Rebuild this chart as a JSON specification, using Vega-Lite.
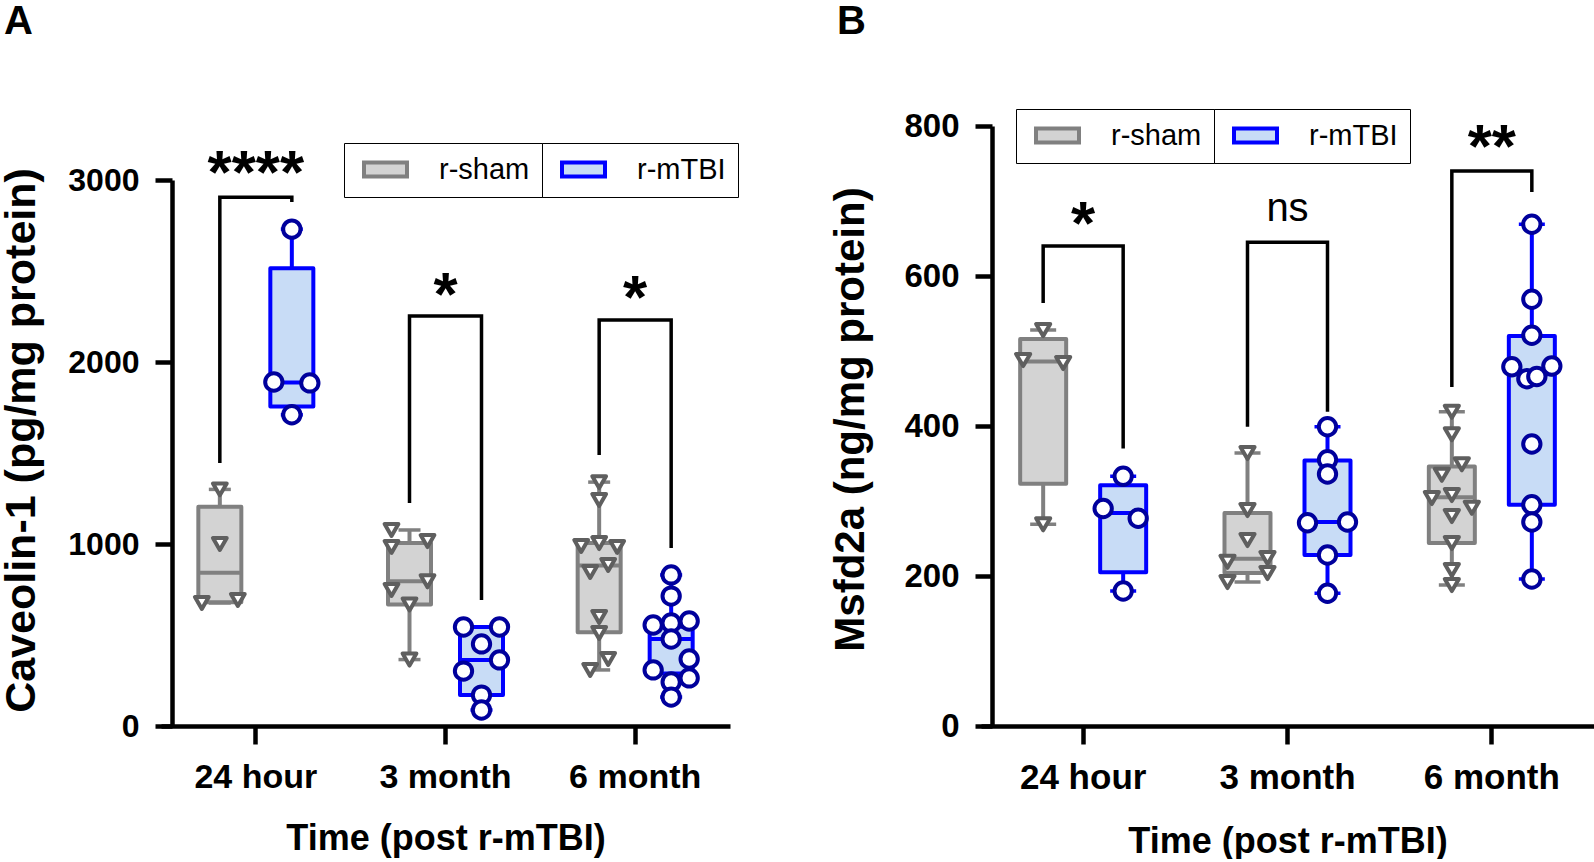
{
"$schema": "https://vega.github.io/schema/vega-lite/v6.json",
"padding": {"left": 0, "top": 2, "right": 0, "bottom": 0},
"background": "white",
"config": {
  "font": "Liberation Sans",
  "view": {"stroke": null},
  "axis": {"domainColor": "black", "domainWidth": 4.5, "tickColor": "black", "tickWidth": 4.5, "labelColor": "black", "labelFont": "Liberation Sans", "labelFontWeight": "bold", "titleFont": "Liberation Sans", "titleFontWeight": "bold", "titleColor": "black", "grid": false}
},
"datasets": {
"pts": [
{"p":"A","t":"24 hour","g":"r-sham","s":"s0","v":1300},
{"p":"A","t":"24 hour","g":"r-sham","s":"s0","v":1000},
{"p":"A","t":"24 hour","g":"r-sham","s":"s-4","v":676},
{"p":"A","t":"24 hour","g":"r-sham","s":"s4","v":692},
{"p":"A","t":"24 hour","g":"r-mTBI","s":"m0","v":2730},
{"p":"A","t":"24 hour","g":"r-mTBI","s":"m-4","v":1890},
{"p":"A","t":"24 hour","g":"r-mTBI","s":"m4","v":1885},
{"p":"A","t":"24 hour","g":"r-mTBI","s":"m0","v":1710},
{"p":"A","t":"3 month","g":"r-sham","s":"s-4","v":1077},
{"p":"A","t":"3 month","g":"r-sham","s":"s-4","v":984},
{"p":"A","t":"3 month","g":"r-sham","s":"s4","v":1016},
{"p":"A","t":"3 month","g":"r-sham","s":"s4","v":795},
{"p":"A","t":"3 month","g":"r-sham","s":"s-4","v":747},
{"p":"A","t":"3 month","g":"r-sham","s":"s0","v":668},
{"p":"A","t":"3 month","g":"r-sham","s":"s0","v":365},
{"p":"A","t":"3 month","g":"r-mTBI","s":"m-4","v":544},
{"p":"A","t":"3 month","g":"r-mTBI","s":"m4","v":544},
{"p":"A","t":"3 month","g":"r-mTBI","s":"m0","v":451},
{"p":"A","t":"3 month","g":"r-mTBI","s":"m4","v":363},
{"p":"A","t":"3 month","g":"r-mTBI","s":"m-4","v":302},
{"p":"A","t":"3 month","g":"r-mTBI","s":"m0","v":170},
{"p":"A","t":"3 month","g":"r-mTBI","s":"m0","v":88},
{"p":"A","t":"6 month","g":"r-sham","s":"s0","v":1340},
{"p":"A","t":"6 month","g":"r-sham","s":"s0","v":1242},
{"p":"A","t":"6 month","g":"r-sham","s":"s-4","v":989},
{"p":"A","t":"6 month","g":"r-sham","s":"s0","v":1005},
{"p":"A","t":"6 month","g":"r-sham","s":"s4","v":984},
{"p":"A","t":"6 month","g":"r-sham","s":"s2","v":885},
{"p":"A","t":"6 month","g":"r-sham","s":"s-2","v":846},
{"p":"A","t":"6 month","g":"r-sham","s":"s0","v":599},
{"p":"A","t":"6 month","g":"r-sham","s":"s0","v":511},
{"p":"A","t":"6 month","g":"r-sham","s":"s2","v":368},
{"p":"A","t":"6 month","g":"r-sham","s":"s-2","v":308},
{"p":"A","t":"6 month","g":"r-mTBI","s":"m0","v":830},
{"p":"A","t":"6 month","g":"r-mTBI","s":"m0","v":714},
{"p":"A","t":"6 month","g":"r-mTBI","s":"m-4","v":555},
{"p":"A","t":"6 month","g":"r-mTBI","s":"m0","v":566},
{"p":"A","t":"6 month","g":"r-mTBI","s":"m4","v":577},
{"p":"A","t":"6 month","g":"r-mTBI","s":"m0","v":478},
{"p":"A","t":"6 month","g":"r-mTBI","s":"m4","v":368},
{"p":"A","t":"6 month","g":"r-mTBI","s":"m-4","v":308},
{"p":"A","t":"6 month","g":"r-mTBI","s":"m4","v":264},
{"p":"A","t":"6 month","g":"r-mTBI","s":"m0","v":242},
{"p":"A","t":"6 month","g":"r-mTBI","s":"m0","v":159},
{"p":"B","t":"24 hour","g":"r-sham","s":"s0","v":528},
{"p":"B","t":"24 hour","g":"r-sham","s":"s-4","v":488},
{"p":"B","t":"24 hour","g":"r-sham","s":"s4","v":484},
{"p":"B","t":"24 hour","g":"r-sham","s":"s0","v":269},
{"p":"B","t":"24 hour","g":"r-mTBI","s":"m0","v":333},
{"p":"B","t":"24 hour","g":"r-mTBI","s":"m-4","v":290},
{"p":"B","t":"24 hour","g":"r-mTBI","s":"m3","v":277},
{"p":"B","t":"24 hour","g":"r-mTBI","s":"m0","v":180},
{"p":"B","t":"3 month","g":"r-sham","s":"s0","v":364},
{"p":"B","t":"3 month","g":"r-sham","s":"s0","v":288},
{"p":"B","t":"3 month","g":"r-sham","s":"s0","v":248},
{"p":"B","t":"3 month","g":"r-sham","s":"s-4","v":219},
{"p":"B","t":"3 month","g":"r-sham","s":"s4","v":224},
{"p":"B","t":"3 month","g":"r-sham","s":"s4","v":204},
{"p":"B","t":"3 month","g":"r-sham","s":"s-4","v":192},
{"p":"B","t":"3 month","g":"r-mTBI","s":"m0","v":399},
{"p":"B","t":"3 month","g":"r-mTBI","s":"m0","v":355},
{"p":"B","t":"3 month","g":"r-mTBI","s":"m0","v":336},
{"p":"B","t":"3 month","g":"r-mTBI","s":"m-4","v":271},
{"p":"B","t":"3 month","g":"r-mTBI","s":"m4","v":272},
{"p":"B","t":"3 month","g":"r-mTBI","s":"m0","v":228},
{"p":"B","t":"3 month","g":"r-mTBI","s":"m0","v":177},
{"p":"B","t":"6 month","g":"r-sham","s":"s0","v":419},
{"p":"B","t":"6 month","g":"r-sham","s":"s0","v":389},
{"p":"B","t":"6 month","g":"r-sham","s":"s2","v":349},
{"p":"B","t":"6 month","g":"r-sham","s":"s-2","v":335},
{"p":"B","t":"6 month","g":"r-sham","s":"s-4","v":304},
{"p":"B","t":"6 month","g":"r-sham","s":"s0","v":308},
{"p":"B","t":"6 month","g":"r-sham","s":"s4","v":291},
{"p":"B","t":"6 month","g":"r-sham","s":"s0","v":280},
{"p":"B","t":"6 month","g":"r-sham","s":"s0","v":244},
{"p":"B","t":"6 month","g":"r-sham","s":"s0","v":208},
{"p":"B","t":"6 month","g":"r-sham","s":"s0","v":188},
{"p":"B","t":"6 month","g":"r-mTBI","s":"m0","v":669},
{"p":"B","t":"6 month","g":"r-mTBI","s":"m0","v":569},
{"p":"B","t":"6 month","g":"r-mTBI","s":"m0","v":521},
{"p":"B","t":"6 month","g":"r-mTBI","s":"m-4","v":479},
{"p":"B","t":"6 month","g":"r-mTBI","s":"m-1","v":463},
{"p":"B","t":"6 month","g":"r-mTBI","s":"m1","v":466},
{"p":"B","t":"6 month","g":"r-mTBI","s":"m4","v":480},
{"p":"B","t":"6 month","g":"r-mTBI","s":"m0","v":376},
{"p":"B","t":"6 month","g":"r-mTBI","s":"m0","v":295},
{"p":"B","t":"6 month","g":"r-mTBI","s":"m0","v":272},
{"p":"B","t":"6 month","g":"r-mTBI","s":"m0","v":196}
],
"boxes": [
{"p":"A","t":"24 hour","g":"r-sham","s":"s0","min":676,"q1":680,"med":842,"q3":1205,"max":1300},
{"p":"A","t":"24 hour","g":"r-mTBI","s":"m0","min":1710,"q1":1755,"med":1888,"q3":2515,"max":2730},
{"p":"A","t":"3 month","g":"r-sham","s":"s0","min":365,"q1":668,"med":795,"q3":1005,"max":1077},
{"p":"A","t":"3 month","g":"r-mTBI","s":"m0","min":88,"q1":170,"med":363,"q3":544,"max":544},
{"p":"A","t":"6 month","g":"r-sham","s":"s0","min":308,"q1":515,"med":882,"q3":1005,"max":1340},
{"p":"A","t":"6 month","g":"r-mTBI","s":"m0","min":159,"q1":288,"med":478,"q3":545,"max":830},
{"p":"B","t":"24 hour","g":"r-sham","s":"s0","min":269,"q1":323,"med":486,"q3":516,"max":528},
{"p":"B","t":"24 hour","g":"r-mTBI","s":"m0","min":180,"q1":205,"med":284,"q3":321,"max":333},
{"p":"B","t":"3 month","g":"r-sham","s":"s0","min":192,"q1":204,"med":223,"q3":284,"max":364},
{"p":"B","t":"3 month","g":"r-mTBI","s":"m0","min":177,"q1":228,"med":272,"q3":354,"max":399},
{"p":"B","t":"6 month","g":"r-sham","s":"s0","min":188,"q1":244,"med":305,"q3":346,"max":419},
{"p":"B","t":"6 month","g":"r-mTBI","s":"m0","min":196,"q1":295,"med":469,"q3":520,"max":669}
],
"brk": [
{"p":"A","t":"24 hour","id":"a1","o":1,"s":"s0","v":1445},
{"p":"A","t":"24 hour","id":"a1","o":2,"s":"s0","v":2905},
{"p":"A","t":"24 hour","id":"a1","o":3,"s":"m0","v":2905},
{"p":"A","t":"24 hour","id":"a1","o":4,"s":"m0","v":2879},
{"p":"A","t":"3 month","id":"a2","o":1,"s":"s0","v":1225},
{"p":"A","t":"3 month","id":"a2","o":2,"s":"s0","v":2253},
{"p":"A","t":"3 month","id":"a2","o":3,"s":"m0","v":2253},
{"p":"A","t":"3 month","id":"a2","o":4,"s":"m0","v":692},
{"p":"A","t":"6 month","id":"a3","o":1,"s":"s0","v":1489},
{"p":"A","t":"6 month","id":"a3","o":2,"s":"s0","v":2231},
{"p":"A","t":"6 month","id":"a3","o":3,"s":"m0","v":2231},
{"p":"A","t":"6 month","id":"a3","o":4,"s":"m0","v":978},
{"p":"B","t":"24 hour","id":"b1","o":1,"s":"s0","v":564},
{"p":"B","t":"24 hour","id":"b1","o":2,"s":"s0","v":640},
{"p":"B","t":"24 hour","id":"b1","o":3,"s":"m0","v":640},
{"p":"B","t":"24 hour","id":"b1","o":4,"s":"m0","v":370},
{"p":"B","t":"3 month","id":"b2","o":1,"s":"s0","v":399},
{"p":"B","t":"3 month","id":"b2","o":2,"s":"s0","v":645},
{"p":"B","t":"3 month","id":"b2","o":3,"s":"m0","v":645},
{"p":"B","t":"3 month","id":"b2","o":4,"s":"m0","v":419},
{"p":"B","t":"6 month","id":"b3","o":1,"s":"s0","v":452},
{"p":"B","t":"6 month","id":"b3","o":2,"s":"s0","v":740},
{"p":"B","t":"6 month","id":"b3","o":3,"s":"m0","v":740},
{"p":"B","t":"6 month","id":"b3","o":4,"s":"m0","v":712}
],
"sig": [
{"p":"A","t":"24 hour","s":"g4","label":"****","v":2929},
{"p":"A","t":"3 month","s":"g4","label":"*","v":2259},
{"p":"A","t":"6 month","s":"g4","label":"*","v":2240},
{"p":"B","t":"24 hour","s":"g4","label":"*","v":643},
{"p":"B","t":"3 month","s":"g4","label":"ns","v":673},
{"p":"B","t":"6 month","s":"g4","label":"**","v":746}
]
},
"hconcat": [
{
 "width": 569, "height": 626,
 "title": {"text": "A", "anchor": "start", "frame": "group", "dx": -157, "offset": 26, "baseline": "alphabetic", "fontSize": 40, "fontWeight": "bold", "font": "Liberation Sans", "color": "black"},
 "encoding": {
  "x": {"field": "t", "type": "nominal", "sort": ["24 hour", "3 month", "6 month"], "scale": {"paddingInner": 0, "paddingOuter": 0},
        "axis": {"labelFontSize": 34, "labelPadding": 16, "tickSize": 18, "labelAngle": 0, "title": "Time (post r-mTBI)", "titleFontSize": 36, "titleBaseline": "alphabetic", "titleY": 123}},
  "xOffset": {"field": "s", "type": "nominal", "scale": {"domain": ["p1","p2","p3","p4","p5","p6","p7","p8","s-4","s-3","s-2","s-1","s0","s1","s2","s3","s4","g1","g2","g3","g4","g5","g6","g7","m-4","m-3","m-2","m-1","m0","m1","m2","m3","m4","r1","r2","r3","r4","r5","r6","r7","r8"], "paddingInner": 0, "paddingOuter": 0.574}}
 },
 "layer": [
  {"data": {"name": "boxes"}, "transform": [{"filter": "datum.p === 'A'"}],
   "mark": {"type": "bar", "width": 43, "strokeWidth": 4, "strokeJoin": "round", "opacity": 1},
   "encoding": {
    "y": {"field": "q1", "type": "quantitative", "scale": {"domain": [0, 3000], "range": [626, 80], "nice": false, "zero": false},
          "axis": {"values": [0, 1000, 2000, 3000], "format": "d", "offset": -11, "tickSize": 17, "labelPadding": 16, "labelFontSize": 32, "title": "Caveolin-1 (pg/mg protein)", "titleFontSize": 43, "titleBaseline": "alphabetic", "titleAngle": 270, "titleAlign": "center", "titleX": -138, "titleY": 340}},
    "y2": {"field": "q3"},
    "fill": {"field": "g", "type": "nominal", "scale": {"range": ["#c8dcf6", "#d3d3d3"]},
             "legend": {"values": ["r-sham"], "orient": "none", "legendX": 183, "legendY": 43, "title": null, "symbolType": "M-2.15,-0.7H2.15V0.7H-2.15Z", "symbolSize": 400, "symbolStrokeWidth": 4, "symbolStrokeColor": "#808080", "symbolOffset": 15, "labelOffset": 39, "labelFontSize": 29, "labelFont": "Liberation Sans", "labelColor": "black", "padding": 12, "strokeColor": "black",
                        "encode": {"legend": {"update": {"strokeWidth": {"value": 2}}}, "symbols": {"update": {"fill": {"value": "#d3d3d3"}, "stroke": {"value": "#808080"}, "strokeWidth": {"value": 4}, "opacity": {"value": 1}}}}}},
    "stroke": {"field": "g", "type": "nominal", "scale": {"domain": ["r-mTBI", "r-sham"], "range": ["#0000ff", "#808080"]},
             "legend": {"values": ["r-mTBI"], "orient": "none", "legendX": 381, "legendY": 43, "title": null, "symbolType": "M-2.15,-0.7H2.15V0.7H-2.15Z", "symbolSize": 400, "symbolStrokeWidth": 4, "symbolFillColor": "#c8dcf6", "symbolOffset": 15, "labelOffset": 39, "labelFontSize": 29, "labelFont": "Liberation Sans", "labelColor": "black", "padding": 12, "strokeColor": "black",
                        "encode": {"legend": {"update": {"strokeWidth": {"value": 2}}}, "symbols": {"update": {"fill": {"value": "#c8dcf6"}, "stroke": {"value": "#0000ff"}, "strokeWidth": {"value": 4}, "opacity": {"value": 1}}}}}}
   }},
  {"data": {"name": "boxes"}, "transform": [{"filter": "datum.p === 'A'"}],
   "mark": {"type": "rule", "strokeWidth": 4, "opacity": 1},
   "encoding": {"y": {"field": "min", "type": "quantitative", "scale": {"domain": [0, 3000], "range": [626, 80], "nice": false, "zero": false}}, "y2": {"field": "q1"},
    "stroke": {"condition": {"test": "datum.g === 'r-sham'", "value": "#808080"}, "value": "#0000ff"}}},
  {"data": {"name": "boxes"}, "transform": [{"filter": "datum.p === 'A'"}],
   "mark": {"type": "rule", "strokeWidth": 4, "opacity": 1},
   "encoding": {"y": {"field": "q3", "type": "quantitative", "scale": {"domain": [0, 3000], "range": [626, 80], "nice": false, "zero": false}}, "y2": {"field": "max"},
    "stroke": {"condition": {"test": "datum.g === 'r-sham'", "value": "#808080"}, "value": "#0000ff"}}},
  {"data": {"name": "boxes"}, "transform": [{"filter": "datum.p === 'A'"}],
   "mark": {"type": "point", "shape": "stroke", "size": 1849, "strokeWidth": 4, "opacity": 1},
   "encoding": {"y": {"field": "med", "type": "quantitative", "scale": {"domain": [0, 3000], "range": [626, 80], "nice": false, "zero": false}},
    "stroke": {"condition": {"test": "datum.g === 'r-sham'", "value": "#808080"}, "value": "#0000ff"}}},
  {"data": {"name": "boxes"}, "transform": [{"filter": "datum.p === 'A'"}],
   "mark": {"type": "point", "shape": "stroke", "size": 484, "strokeWidth": 3.5, "opacity": 1},
   "encoding": {"y": {"field": "min", "type": "quantitative", "scale": {"domain": [0, 3000], "range": [626, 80], "nice": false, "zero": false}},
    "stroke": {"condition": {"test": "datum.g === 'r-sham'", "value": "#808080"}, "value": "#0000ff"}}},
  {"data": {"name": "boxes"}, "transform": [{"filter": "datum.p === 'A'"}],
   "mark": {"type": "point", "shape": "stroke", "size": 484, "strokeWidth": 3.5, "opacity": 1},
   "encoding": {"y": {"field": "max", "type": "quantitative", "scale": {"domain": [0, 3000], "range": [626, 80], "nice": false, "zero": false}},
    "stroke": {"condition": {"test": "datum.g === 'r-sham'", "value": "#808080"}, "value": "#0000ff"}}},
  {"data": {"name": "pts"}, "transform": [{"filter": "datum.p === 'A'"}],
   "mark": {"type": "point", "filled": false, "fill": "white", "strokeWidth": 4, "strokeJoin": "round", "opacity": 1},
   "encoding": {"y": {"field": "v", "type": "quantitative", "scale": {"domain": [0, 3000], "range": [626, 80], "nice": false, "zero": false}},
    "shape": {"field": "g", "type": "nominal", "scale": {"domain": ["r-sham", "r-mTBI"], "range": ["triangle-down", "circle"]}, "legend": null},
    "size": {"field": "g", "type": "nominal", "scale": {"domain": ["r-sham", "r-mTBI"], "range": [190, 300]}, "legend": null},
    "color": {"field": "g", "type": "nominal", "scale": {"domain": ["r-sham", "r-mTBI"], "range": ["#5f5f5f", "#00009c"]}, "legend": null}}},
  {"data": {"name": "brk"}, "transform": [{"filter": "datum.p === 'A'"}],
   "mark": {"type": "line", "color": "black", "strokeWidth": 3.5, "strokeJoin": "miter", "strokeCap": "butt", "opacity": 1},
   "encoding": {"y": {"field": "v", "type": "quantitative", "scale": {"domain": [0, 3000], "range": [626, 80], "nice": false, "zero": false}},
    "detail": {"field": "id"}, "order": {"field": "o", "type": "quantitative"}}},
  {"data": {"name": "sig"}, "transform": [{"filter": "datum.p === 'A'"}],
   "mark": {"type": "text", "font": "Liberation Sans", "fontWeight": "bold", "fontSize": 62, "baseline": "alphabetic", "align": "center", "color": "black", "opacity": 1},
   "encoding": {"y": {"field": "v", "type": "quantitative", "scale": {"domain": [0, 3000], "range": [626, 80], "nice": false, "zero": false}},
    "text": {"field": "label"}}}
 ]
},
{
 "width": 613, "height": 626,
 "title": {"text": "B", "anchor": "start", "frame": "group", "dx": -144, "offset": 26, "baseline": "alphabetic", "fontSize": 40, "fontWeight": "bold", "font": "Liberation Sans", "color": "black"},
 "encoding": {
  "x": {"field": "t", "type": "nominal", "sort": ["24 hour", "3 month", "6 month"], "scale": {"paddingInner": 0, "paddingOuter": 0},
        "axis": {"labelFontSize": 35, "labelPadding": 16, "tickSize": 18, "labelAngle": 0, "title": "Time (post r-mTBI)", "titleFontSize": 36, "titleBaseline": "alphabetic", "titleY": 126}},
  "xOffset": {"field": "s", "type": "nominal", "scale": {"domain": ["p1","p2","p3","p4","p5","p6","p7","s-4","s-3","s-2","s-1","s0","s1","s2","s3","s4","g1","g2","g3","g4","g5","g6","g7","m-4","m-3","m-2","m-1","m0","m1","m2","m3","m4","r1","r2","r3","r4","r5","r6","r7"], "paddingInner": 0, "paddingOuter": 0.933}}
 },
 "layer": [
  {"data": {"name": "boxes"}, "transform": [{"filter": "datum.p === 'B'"}],
   "mark": {"type": "bar", "width": 46, "strokeWidth": 4, "strokeJoin": "round", "opacity": 1},
   "encoding": {
    "y": {"field": "q1", "type": "quantitative", "scale": {"domain": [0, 800], "range": [626, 26], "nice": false, "zero": false},
          "axis": {"values": [0, 200, 400, 600, 800], "format": "d", "offset": -11, "tickSize": 17, "labelPadding": 16, "labelFontSize": 33, "title": "Msfd2a (ng/mg protein)", "titleFontSize": 42, "titleBaseline": "alphabetic", "titleAngle": 270, "titleAlign": "center", "titleX": -129, "titleY": 319}},
    "y2": {"field": "q3"},
    "fill": {"field": "g", "type": "nominal", "scale": {"range": ["#c8dcf6", "#d3d3d3"]},
             "legend": {"values": ["r-sham"], "orient": "none", "legendX": 35, "legendY": 9, "title": null, "symbolType": "M-2.15,-0.7H2.15V0.7H-2.15Z", "symbolSize": 400, "symbolStrokeWidth": 4, "symbolStrokeColor": "#808080", "symbolOffset": 15, "labelOffset": 39, "labelFontSize": 29, "labelFont": "Liberation Sans", "labelColor": "black", "padding": 12, "strokeColor": "black",
                        "encode": {"legend": {"update": {"strokeWidth": {"value": 2}}}, "symbols": {"update": {"fill": {"value": "#d3d3d3"}, "stroke": {"value": "#808080"}, "strokeWidth": {"value": 4}, "opacity": {"value": 1}}}}}},
    "stroke": {"field": "g", "type": "nominal", "scale": {"domain": ["r-mTBI", "r-sham"], "range": ["#0000ff", "#808080"]},
             "legend": {"values": ["r-mTBI"], "orient": "none", "legendX": 233, "legendY": 9, "title": null, "symbolType": "M-2.15,-0.7H2.15V0.7H-2.15Z", "symbolSize": 400, "symbolStrokeWidth": 4, "symbolFillColor": "#c8dcf6", "symbolOffset": 15, "labelOffset": 39, "labelFontSize": 29, "labelFont": "Liberation Sans", "labelColor": "black", "padding": 12, "strokeColor": "black",
                        "encode": {"legend": {"update": {"strokeWidth": {"value": 2}}}, "symbols": {"update": {"fill": {"value": "#c8dcf6"}, "stroke": {"value": "#0000ff"}, "strokeWidth": {"value": 4}, "opacity": {"value": 1}}}}}}
   }},
  {"data": {"name": "boxes"}, "transform": [{"filter": "datum.p === 'B'"}],
   "mark": {"type": "rule", "strokeWidth": 4, "opacity": 1},
   "encoding": {"y": {"field": "min", "type": "quantitative", "scale": {"domain": [0, 800], "range": [626, 26], "nice": false, "zero": false}}, "y2": {"field": "q1"},
    "stroke": {"condition": {"test": "datum.g === 'r-sham'", "value": "#808080"}, "value": "#0000ff"}}},
  {"data": {"name": "boxes"}, "transform": [{"filter": "datum.p === 'B'"}],
   "mark": {"type": "rule", "strokeWidth": 4, "opacity": 1},
   "encoding": {"y": {"field": "q3", "type": "quantitative", "scale": {"domain": [0, 800], "range": [626, 26], "nice": false, "zero": false}}, "y2": {"field": "max"},
    "stroke": {"condition": {"test": "datum.g === 'r-sham'", "value": "#808080"}, "value": "#0000ff"}}},
  {"data": {"name": "boxes"}, "transform": [{"filter": "datum.p === 'B'"}],
   "mark": {"type": "point", "shape": "stroke", "size": 2116, "strokeWidth": 4, "opacity": 1},
   "encoding": {"y": {"field": "med", "type": "quantitative", "scale": {"domain": [0, 800], "range": [626, 26], "nice": false, "zero": false}},
    "stroke": {"condition": {"test": "datum.g === 'r-sham'", "value": "#808080"}, "value": "#0000ff"}}},
  {"data": {"name": "boxes"}, "transform": [{"filter": "datum.p === 'B'"}],
   "mark": {"type": "point", "shape": "stroke", "size": 676, "strokeWidth": 3.5, "opacity": 1},
   "encoding": {"y": {"field": "min", "type": "quantitative", "scale": {"domain": [0, 800], "range": [626, 26], "nice": false, "zero": false}},
    "stroke": {"condition": {"test": "datum.g === 'r-sham'", "value": "#808080"}, "value": "#0000ff"}}},
  {"data": {"name": "boxes"}, "transform": [{"filter": "datum.p === 'B'"}],
   "mark": {"type": "point", "shape": "stroke", "size": 676, "strokeWidth": 3.5, "opacity": 1},
   "encoding": {"y": {"field": "max", "type": "quantitative", "scale": {"domain": [0, 800], "range": [626, 26], "nice": false, "zero": false}},
    "stroke": {"condition": {"test": "datum.g === 'r-sham'", "value": "#808080"}, "value": "#0000ff"}}},
  {"data": {"name": "pts"}, "transform": [{"filter": "datum.p === 'B'"}],
   "mark": {"type": "point", "filled": false, "fill": "white", "strokeWidth": 4, "strokeJoin": "round", "opacity": 1},
   "encoding": {"y": {"field": "v", "type": "quantitative", "scale": {"domain": [0, 800], "range": [626, 26], "nice": false, "zero": false}},
    "shape": {"field": "g", "type": "nominal", "scale": {"domain": ["r-sham", "r-mTBI"], "range": ["triangle-down", "circle"]}, "legend": null},
    "size": {"field": "g", "type": "nominal", "scale": {"domain": ["r-sham", "r-mTBI"], "range": [200, 300]}, "legend": null},
    "color": {"field": "g", "type": "nominal", "scale": {"domain": ["r-sham", "r-mTBI"], "range": ["#5f5f5f", "#00009c"]}, "legend": null}}},
  {"data": {"name": "brk"}, "transform": [{"filter": "datum.p === 'B'"}],
   "mark": {"type": "line", "color": "black", "strokeWidth": 3.5, "strokeJoin": "miter", "strokeCap": "butt", "opacity": 1},
   "encoding": {"y": {"field": "v", "type": "quantitative", "scale": {"domain": [0, 800], "range": [626, 26], "nice": false, "zero": false}},
    "detail": {"field": "id"}, "order": {"field": "o", "type": "quantitative"}}},
  {"data": {"name": "sig"}, "transform": [{"filter": "datum.p === 'B' && datum.label !== 'ns'"}],
   "mark": {"type": "text", "font": "Liberation Sans", "fontWeight": "bold", "fontSize": 62, "baseline": "alphabetic", "align": "center", "color": "black", "opacity": 1},
   "encoding": {"y": {"field": "v", "type": "quantitative", "scale": {"domain": [0, 800], "range": [626, 26], "nice": false, "zero": false}},
    "text": {"field": "label"}}},
  {"data": {"name": "sig"}, "transform": [{"filter": "datum.p === 'B' && datum.label === 'ns'"}],
   "mark": {"type": "text", "font": "Liberation Sans", "fontWeight": "normal", "fontSize": 40, "baseline": "alphabetic", "align": "center", "color": "black", "opacity": 1},
   "encoding": {"y": {"field": "v", "type": "quantitative", "scale": {"domain": [0, 800], "range": [626, 26], "nice": false, "zero": false}},
    "text": {"field": "label"}}}
 ]
}
],
"spacing": 251,
"bounds": "flush",
"resolve": {"scale": {"x": "independent", "y": "independent", "xOffset": "independent", "fill": "independent", "stroke": "independent", "color": "independent", "shape": "independent", "size": "independent"}, "legend": {"fill": "independent", "stroke": "independent", "color": "independent", "shape": "independent", "size": "independent"}}
}
